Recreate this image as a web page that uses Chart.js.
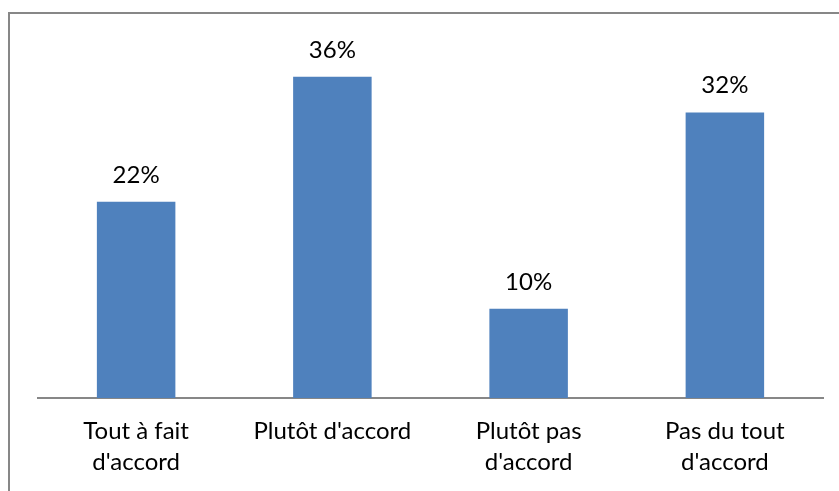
<!DOCTYPE html>
<html lang="fr">
<head>
    <meta charset="UTF-8">
    <title>Accord</title>
    <style>
        body {
            margin: 0;
            padding: 0;
            background-color: #ffffff;
        }

        .wrap {
            position: relative;
            width: 839px;
            height: 491px;
            overflow: hidden;
        }

        .frame {
            position: absolute;
            left: 8px;
            top: 12px;
            width: 900px;
            height: 600px;
            border-top: 2px solid #878787;
            border-left: 2px solid #878787;
        }

        canvas {
            position: absolute;
            left: 0;
            top: 0;
        }
    </style>
    <script src="https://cdn.jsdelivr.net/npm/chart.js"></script>
</head>
<body>
    <div class="wrap">
        <div class="frame"></div>
        <!-- canvas is a bit taller than the window; the axis labels need the room -->
        <canvas id="myCanvas" width="839" height="510"></canvas>
    </div>

    <script>
        "use strict";

        const categories = [
            ['Tout à fait', "d'accord"],
            "Plutôt d'accord",
            ['Plutôt pas', "d'accord"],
            ['Pas du tout', "d'accord"]
        ];
        const percentages = [22, 36, 10, 32];
        const yMax = 40;

        // writes the value above each bar
        const valueLabels = {
            id: 'valueLabels',
            afterDatasetsDraw(chart) {
                const ctx = chart.ctx;
                const meta = chart.getDatasetMeta(0);
                ctx.save();
                ctx.font = '24px Lato';
                ctx.fillStyle = '#000000';
                ctx.textAlign = 'center';
                ctx.textBaseline = 'alphabetic';
                meta.data.forEach((bar, i) => {
                    ctx.fillText(percentages[i] + '%', bar.x, bar.y - 19);
                });
                ctx.restore();
            }
        };

        const ctx = document.getElementById('myCanvas').getContext('2d');

        new Chart(ctx, {
            type: 'bar',
            data: {
                labels: categories,
                datasets: [{
                    data: percentages,
                    backgroundColor: '#4f81bd',
                    borderWidth: 0,
                    categoryPercentage: 1,
                    barPercentage: 0.4
                }]
            },
            options: {
                responsive: false,
                animation: false,
                layout: {
                    padding: { left: 38, right: 16, top: 41, bottom: 14 }
                },
                scales: {
                    y: {
                        display: false,
                        min: 0,
                        max: yMax
                    },
                    x: {
                        grid: { display: false, drawTicks: false },
                        border: { display: true, color: '#878787', width: 2 },
                        ticks: {
                            color: '#000000',
                            padding: 18,
                            maxRotation: 0,
                            autoSkip: false,
                            font: { family: 'Lato', size: 24, lineHeight: 1.29 }
                        }
                    }
                },
                plugins: {
                    legend: { display: false },
                    tooltip: { enabled: false }
                }
            },
            plugins: [valueLabels]
        });
    </script>
</body>
</html>
